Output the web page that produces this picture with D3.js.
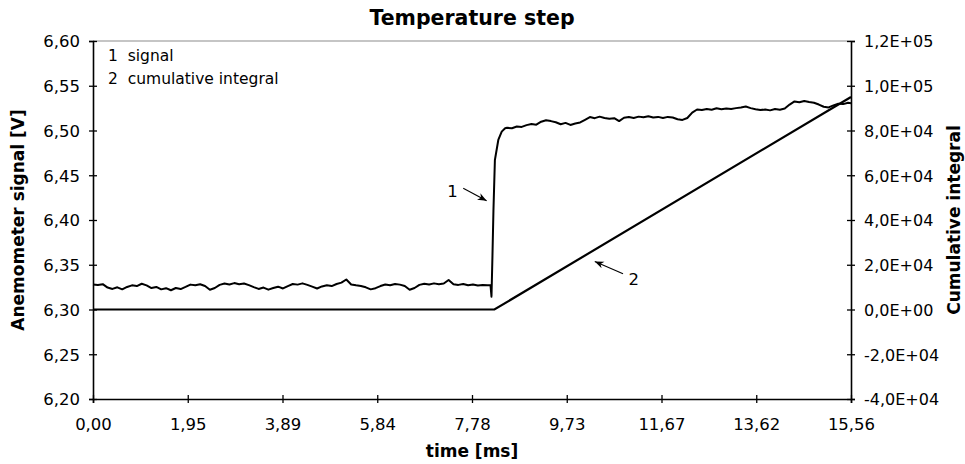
<!DOCTYPE html>
<html>
<head>
<meta charset="utf-8">
<script src="https://cdn.jsdelivr.net/npm/d3@7"></script>
<style>
  html, body { margin: 0; padding: 0; background: #fff; }
  svg { display: block; font-family: "DejaVu Sans", Verdana, sans-serif; }
</style>
</head>
<body>
<svg id="chart" width="965" height="464"></svg>
<script>
// ---- data ----
const title = "Temperature step";
const xTitle = "time [ms]";
const yLeftTitle = "Anemometer signal [V]";
const yRightTitle = "Cumulative integral";
const legendItems = ["1  signal", "2  cumulative integral"];

const xTickValues = [0, 1.945, 3.89, 5.835, 7.78, 9.725, 11.67, 13.615, 15.56];
const xTickLabels = ["0,00", "1,95", "3,89", "5,84", "7,78", "9,73", "11,67", "13,62", "15,56"];
const yLeftTicks = [6.20, 6.25, 6.30, 6.35, 6.40, 6.45, 6.50, 6.55, 6.60];
const yLeftLabels = ["6,20", "6,25", "6,30", "6,35", "6,40", "6,45", "6,50", "6,55", "6,60"];
const yRightTicks = [-40000, -20000, 0, 20000, 40000, 60000, 80000, 100000, 120000];
const yRightLabels = ["-4,0E+04", "-2,0E+04", "0,0E+00", "2,0E+04", "4,0E+04", "6,0E+04", "8,0E+04", "1,0E+05", "1,2E+05"];

// signal (1): time [ms]
const signalT = [
  0.0,0.1,0.2,0.3,0.4,0.5,0.6,0.7,0.8,0.9,
  1.0,1.1,1.2,1.3,1.4,1.5,1.6,1.7,1.8,1.9,
  2.0,2.1,2.2,2.3,2.4,2.5,2.6,2.7,2.8,2.9,
  3.0,3.1,3.2,3.3,3.4,3.5,3.6,3.7,3.8,3.9,
  4.0,4.1,4.2,4.3,4.4,4.5,4.6,4.7,4.8,4.9,
  5.0,5.1,5.2,5.3,5.4,5.5,5.6,5.7,5.8,5.9,
  6.0,6.1,6.2,6.3,6.4,6.5,6.6,6.7,6.8,6.9,
  7.0,7.1,7.2,7.3,7.4,7.5,7.6,7.7,7.8,7.9,
  8.0,8.1,8.16,8.18,8.20,8.22,8.25,8.32,8.39,8.46,
  8.5,8.6,8.7,8.8,8.9,9.0,9.1,9.2,9.3,9.4,
  9.5,9.6,9.7,9.8,9.9,10.0,10.1,10.2,10.3,10.4,
  10.5,10.6,10.7,10.8,10.9,11.0,11.1,11.2,11.3,11.4,
  11.5,11.6,11.7,11.8,11.9,12.0,12.1,12.2,12.3,12.4,
  12.5,12.6,12.7,12.8,12.9,13.0,13.1,13.2,13.3,13.4,
  13.5,13.6,13.7,13.8,13.9,14.0,14.1,14.2,14.3,14.4,
  14.5,14.6,14.7,14.8,14.9,15.0,15.1,15.2,15.3,15.4,
  15.5,15.56
];
// signal (1): anemometer voltage [V]
const signalV = [
  6.3280,6.3275,6.3283,6.3245,6.3230,6.3248,6.3225,6.3252,6.3270,6.3262,
  6.3288,6.3270,6.3240,6.3252,6.3225,6.3238,6.3215,6.3240,6.3228,6.3252,
  6.3278,6.3270,6.3282,6.3262,6.3220,6.3240,6.3275,6.3290,6.3280,6.3295,
  6.3282,6.3290,6.3272,6.3250,6.3230,6.3245,6.3222,6.3240,6.3255,6.3235,
  6.3262,6.3285,6.3278,6.3292,6.3275,6.3255,6.3235,6.3258,6.3270,6.3262,
  6.3285,6.3300,6.3335,6.3280,6.3270,6.3262,6.3248,6.3225,6.3238,6.3262,
  6.3280,6.3272,6.3285,6.3278,6.3262,6.3220,6.3240,6.3275,6.3288,6.3280,
  6.3292,6.3283,6.3290,6.3330,6.3282,6.3275,6.3285,6.3270,6.3280,6.3268,
  6.3275,6.3272,6.3270,6.3143,6.3600,6.4100,6.4670,6.4894,6.4987,6.5025,
  6.5030,6.5025,6.5045,6.5040,6.5060,6.5072,6.5065,6.5098,6.5115,6.5105,
  6.5092,6.5070,6.5085,6.5062,6.5078,6.5090,6.5120,6.5150,6.5138,6.5155,
  6.5140,6.5132,6.5138,6.5105,6.5142,6.5150,6.5140,6.5155,6.5148,6.5160,
  6.5145,6.5152,6.5140,6.5152,6.5145,6.5125,6.5118,6.5140,6.5200,6.5235,
  6.5228,6.5240,6.5232,6.5248,6.5238,6.5245,6.5240,6.5250,6.5258,6.5268,
  6.5250,6.5238,6.5228,6.5235,6.5225,6.5240,6.5232,6.5245,6.5290,6.5325,
  6.5315,6.5330,6.5318,6.5310,6.5290,6.5265,6.5258,6.5280,6.5300,6.5295,
  6.5310,6.5305
];

// cumulative integral (2)
const integralT = [0, 8.24, 15.56];
const integralV = [0, 0, 95000];

const annotLabels = ["1", "2"];

// ---- layout ----
const svg = d3.select("#chart");
const W = 965, H = 464;
const margin = { left: 93, right: W - 851, top: 41, bottom: H - 399 };
const iw = W - margin.left - margin.right;
const ih = H - margin.top - margin.bottom;

const x = d3.scaleLinear().domain([0, 15.56]).range([margin.left, margin.left + iw]);
const yL = d3.scaleLinear().domain([6.20, 6.60]).range([margin.top + ih, margin.top]);
const yR = d3.scaleLinear().domain([-40000, 120000]).range([margin.top + ih, margin.top]);

const FS = 16.5;

// top border (grey)
svg.append("line")
  .attr("x1", x(0)).attr("x2", x(15.56))
  .attr("y1", yL(6.60)).attr("y2", yL(6.60))
  .attr("stroke", "#8c8c8c").attr("stroke-width", 1.2);

// axes
const gx = svg.append("g").attr("transform", `translate(0,${yL(6.20)})`)
  .call(d3.axisBottom(x).tickValues(xTickValues).tickSize(4).tickPadding(16)
    .tickFormat((d, i) => xTickLabels[i]));
gx.selectAll(".tick line").attr("y1", -4).attr("y2", 4);

const gl = svg.append("g").attr("transform", `translate(${x(0)},0)`)
  .call(d3.axisLeft(yL).tickValues(yLeftTicks).tickSize(4).tickPadding(9)
    .tickFormat((d, i) => yLeftLabels[i]));
gl.selectAll(".tick line").attr("x1", 4).attr("x2", -4);

const gr = svg.append("g").attr("transform", `translate(${x(15.56)},0)`)
  .call(d3.axisRight(yR).tickValues(yRightTicks).tickSize(4).tickPadding(9)
    .tickFormat((d, i) => yRightLabels[i]));
gr.selectAll(".tick line").attr("x1", -4).attr("x2", 4);

[gx, gl, gr].forEach(g => {
  g.selectAll(".domain").attr("stroke", "#000").attr("stroke-width", 1.6);
  g.selectAll(".tick line").attr("stroke", "#000").attr("stroke-width", 1.3);
  g.selectAll(".tick text").attr("fill", "#000")
    .attr("font-family", "DejaVu Sans, Verdana, sans-serif").attr("font-size", FS);
});
gx.selectAll(".tick text").attr("dy", null).attr("y", 31);
gl.selectAll(".tick text").attr("dy", "0.36em");
gr.selectAll(".tick text").attr("dy", "0.36em").attr("font-size", 16);

// lines
const lineSig = d3.line().x(d => x(d[0])).y(d => yL(d[1]));
const lineInt = d3.line().x(d => x(d[0])).y(d => yR(d[1]));

svg.append("path")
  .datum(integralT.map((t, i) => [t, integralV[i]]))
  .attr("d", lineInt).attr("fill", "none").attr("stroke", "#000")
  .attr("stroke-width", 2.2);

svg.append("path")
  .datum(signalT.map((t, i) => [t, signalV[i]]))
  .attr("d", lineSig).attr("fill", "none").attr("stroke", "#000")
  .attr("stroke-width", 2).attr("stroke-linejoin", "round");

// titles
svg.append("text").attr("x", (x(0) + x(15.56)) / 2).attr("y", 25)
  .attr("text-anchor", "middle").attr("font-weight", "bold").attr("font-size", 20.5)
  .text(title);
svg.append("text").attr("x", (x(0) + x(15.56)) / 2).attr("y", 457)
  .attr("text-anchor", "middle").attr("font-weight", "bold").attr("font-size", 17)
  .text(xTitle);
svg.append("text").attr("transform", `translate(24,${(yL(6.2) + yL(6.6)) / 2}) rotate(-90)`)
  .attr("text-anchor", "middle").attr("font-weight", "bold").attr("font-size", 17)
  .text(yLeftTitle);
svg.append("text").attr("transform", `translate(960,${(yL(6.2) + yL(6.6)) / 2}) rotate(-90)`)
  .attr("text-anchor", "middle").attr("font-weight", "bold").attr("font-size", 17)
  .text(yRightTitle);

// legend (text only)
legendItems.forEach((s, i) => {
  svg.append("text").attr("x", 108).attr("y", 61 + i * 22.5)
    .attr("font-size", 15.5).style("white-space", "pre").text(s);
});

// annotations with arrows
const defs = svg.append("defs");
defs.append("marker").attr("id", "arr").attr("viewBox", "0 0 10 10")
  .attr("refX", 10).attr("refY", 5).attr("markerWidth", 9).attr("markerHeight", 9)
  .attr("markerUnits", "userSpaceOnUse").attr("orient", "auto")
  .append("path").attr("d", "M0,1 L10,5 L0,9 L3,5 z").attr("fill", "#000");

svg.append("text").attr("x", x(7.38)).attr("y", yL(6.426))
  .attr("font-size", FS).attr("text-anchor", "middle").text(annotLabels[0]);
svg.append("line").attr("x1", x(7.6)).attr("y1", yL(6.4355))
  .attr("x2", x(8.08)).attr("y2", yL(6.4215))
  .attr("stroke", "#000").attr("stroke-width", 1.1).attr("marker-end", "url(#arr)");

svg.append("text").attr("x", x(11.1)).attr("y", yR(0) - 25)
  .attr("font-size", FS).attr("text-anchor", "middle").text(annotLabels[1]);
svg.append("line").attr("x1", x(10.88)).attr("y1", yR(16000))
  .attr("x2", x(10.3)).attr("y2", yR(21500))
  .attr("stroke", "#000").attr("stroke-width", 1.1).attr("marker-end", "url(#arr)");
</script>
</body>
</html>
